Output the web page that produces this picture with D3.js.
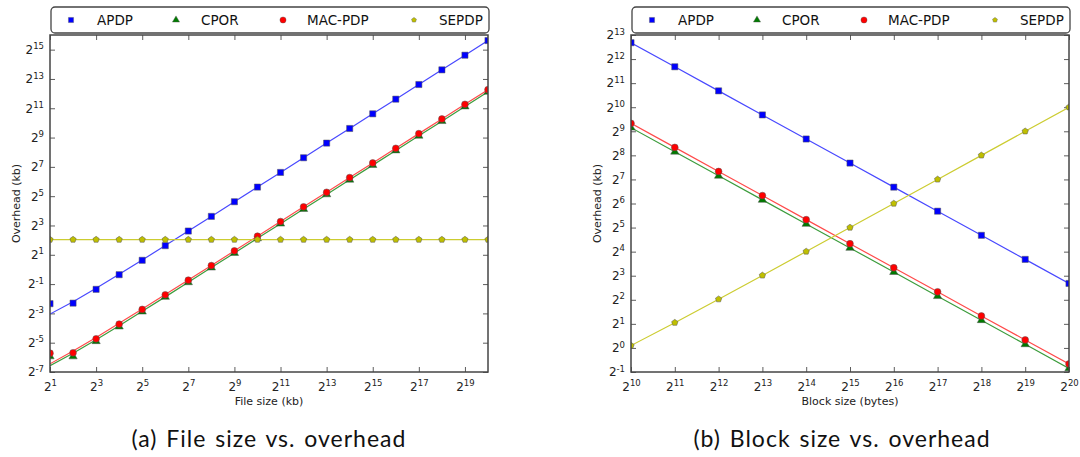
<!DOCTYPE html>
<html><head><meta charset="utf-8">
<script src="https://cdn.jsdelivr.net/npm/d3@7"></script>
<style>
html,body{margin:0;padding:0;background:#fff;}
svg{display:block;font-family:"DejaVu Sans",sans-serif;}
</style></head>
<body>
<svg id="chart" width="1080" height="457"></svg>
<script>
// ---------- DATA ----------
const seriesNames = ["APDP", "CPOR", "MAC-PDP", "SEPDP"];

// (a) File size (kb) vs. overhead (kb)
const fileSizes = [2, 4, 8, 16, 32, 64, 128, 256, 512, 1024, 2048, 4096, 8192, 16384, 32768, 65536, 131072, 262144, 524288, 1048576];
const fileApdp   = [0.198, 0.203, 0.39, 0.78, 1.54, 3.08, 6.15, 12.3, 24.6, 49.2, 98.4, 197, 394, 787, 1575, 3150, 6300, 12600, 25200, 50400];
const fileCpor   = [0.0163, 0.0163, 0.0335, 0.067, 0.1357, 0.272, 0.543, 1.09, 2.17, 4.35, 8.7, 17.4, 34.8, 69.5, 139, 278, 556, 1113, 2226, 4452];
const fileMac    = [0.019, 0.0194, 0.0376, 0.0753, 0.151, 0.301, 0.602, 1.2, 2.41, 4.82, 9.64, 19.3, 38.5, 77.1, 154, 308, 617, 1233, 2467, 4934];
const fileSepdp  = [4.1, 4.1, 4.1, 4.1, 4.1, 4.1, 4.1, 4.1, 4.1, 4.1, 4.1, 4.1, 4.1, 4.1, 4.1, 4.1, 4.1, 4.1, 4.1, 4.1];
// fitted curves drawn as lines in panel (a)
const fileApdpFit  = [0.121, 0.217, 0.409, 0.793, 1.56, 3.1, 6.17, 12.3, 24.6, 49.2, 98.4, 197, 394, 787, 1575, 3150, 6300, 12600, 25200, 50400];
const fileCporFit  = [0.0105, 0.019, 0.036, 0.07, 0.138, 0.273, 0.545, 1.09, 2.17, 4.35, 8.7, 17.4, 34.8, 69.5, 139, 278, 556, 1113, 2226, 4452];
const fileMacFit   = [0.0115, 0.021, 0.04, 0.078, 0.154, 0.306, 0.605, 1.2, 2.41, 4.82, 9.64, 19.3, 38.5, 77.1, 154, 308, 617, 1233, 2467, 4934];
const fileSepdpFit = [4.1, 4.1, 4.1, 4.1, 4.1, 4.1, 4.1, 4.1, 4.1, 4.1, 4.1, 4.1, 4.1, 4.1, 4.1, 4.1, 4.1, 4.1, 4.1, 4.1];

// (b) Block size (bytes) vs. overhead (kb)
const blockSizes = [1024, 2048, 4096, 8192, 16384, 32768, 65536, 131072, 262144, 524288, 1048576];
const blockApdp  = [6560, 3280, 1640, 820, 410, 205, 102.5, 51.3, 25.6, 12.8, 6.4];
const blockCpor  = [568, 284, 142, 71, 35.5, 17.8, 8.88, 4.44, 2.22, 1.11, 0.555];
const blockMac   = [644, 322, 161, 80.4, 40.2, 20.1, 10.06, 5.03, 2.51, 1.26, 0.63];
const blockSepdp = [1.07, 2.07, 4.07, 8.07, 16.07, 32.07, 64, 128, 256, 512, 1024];

// tick values
const fileXTicks  = [2, 8, 32, 128, 512, 2048, 8192, 32768, 131072, 524288];
const fileYTicks  = [1/128, 1/32, 1/8, 1/2, 2, 8, 32, 128, 512, 2048, 8192, 32768];
const blockXTicks = [1024, 2048, 4096, 8192, 16384, 32768, 65536, 131072, 262144, 524288, 1048576];
const blockYTicks = [0.5, 1, 2, 4, 8, 16, 32, 64, 128, 256, 512, 1024, 2048, 4096, 8192];

const xLabels   = ["File size (kb)", "Block size (bytes)"];
const yLabel    = "Overhead (kb)";
const captions  = ["(a) File size vs. overhead", "(b) Block size vs. overhead"];

// ---------- STYLE ----------
const markerFill = ["#0000ff", "#007a00", "#ff0000", "#bfbf00"];
const lineColor  = ["#4848ff", "#3c9c3c", "#ff4a4a", "#cccc30"];
const pentagon = {
  draw(ctx, size) {
    const r = Math.sqrt(size / 2.378);
    for (let i = 0; i < 5; i++) {
      const a = -Math.PI / 2 + i * 2 * Math.PI / 5;
      const x = r * Math.cos(a), y = r * Math.sin(a);
      if (i === 0) ctx.moveTo(x, y); else ctx.lineTo(x, y);
    }
    ctx.closePath();
  }
};
const symTypes = [d3.symbolSquare, d3.symbolTriangle, d3.symbolCircle, pentagon];
const symSizes = [38, 30, 36, 26];
const legSizes = [26, 22, 30, 16];

const svg = d3.select("#chart");

function supLabel(sel) {
  sel.each(function(d) {
    const t = d3.select(this);
    const e = Math.round(Math.log2(d));
    t.text(null);
    t.append("tspan").text("2");
    t.append("tspan").attr("dy", "-0.55em").attr("font-size", "8.5px").text(String(e));
  });
}

function panel(cfg) {
  const g = svg.append("g");
  const x = d3.scaleLog().base(2).domain(cfg.xDom).range([cfg.left, cfg.right]);
  const y = d3.scaleLog().base(2).domain(cfg.yDom).range([cfg.bottom, cfg.top]);

  // axes
  const ax = g.append("g").attr("transform", `translate(0,${cfg.bottom})`)
    .call(d3.axisBottom(x).tickValues(cfg.xTicks).tickSizeInner(-5).tickSizeOuter(0).tickPadding(10));
  ax.selectAll(".tick text").call(supLabel);
  const ay = g.append("g").attr("transform", `translate(${cfg.left},0)`)
    .call(d3.axisLeft(y).tickValues(cfg.yTicks).tickSizeInner(-5).tickSizeOuter(0).tickPadding(6));
  ay.selectAll(".tick text").call(supLabel);
  g.append("g").attr("transform", `translate(0,${cfg.top})`)
    .call(d3.axisTop(x).tickValues(cfg.xTicks).tickSizeInner(-5).tickSizeOuter(0).tickFormat(""));
  g.append("g").attr("transform", `translate(${cfg.right},0)`)
    .call(d3.axisRight(y).tickValues(cfg.yTicks).tickSizeInner(-5).tickSizeOuter(0).tickFormat(""));
  g.selectAll(".domain").remove();
  g.selectAll(".tick line").attr("stroke", "#333").attr("stroke-width", 0.8);
  g.selectAll(".tick text").attr("font-size", "12px").attr("fill", "#222").attr("font-family", "DejaVu Sans");

  // clip
  const cid = "clip" + cfg.id;
  g.append("clipPath").attr("id", cid).append("rect")
    .attr("x", cfg.left).attr("y", cfg.top).attr("width", cfg.right - cfg.left).attr("height", cfg.bottom - cfg.top);

  const plot = g.append("g").attr("clip-path", `url(#${cid})`);
  cfg.series.forEach((s, i) => {
    const line = d3.line().x((d, j) => x(cfg.xs[j])).y(d => y(d));
    plot.append("path").datum(s.fit).attr("d", line)
      .attr("fill", "none").attr("stroke", lineColor[i]).attr("stroke-width", 1.2);
    plot.selectAll(null).data(s.vals).join("path")
      .attr("transform", (d, j) => `translate(${x(cfg.xs[j])},${y(d)})`)
      .attr("d", d3.symbol().type(symTypes[i]).size(symSizes[i]))
      .attr("fill", markerFill[i]).attr("stroke", "#555").attr("stroke-width", 0.5);
  });

  // frame
  g.append("rect").attr("x", cfg.left).attr("y", cfg.top)
    .attr("width", cfg.right - cfg.left).attr("height", cfg.bottom - cfg.top)
    .attr("fill", "none").attr("stroke", "#444").attr("stroke-width", 1.5);

  // axis labels
  g.append("text").attr("x", (cfg.left + cfg.right) / 2).attr("y", 405)
    .attr("text-anchor", "middle").attr("font-size", "11px").attr("fill", "#222").text(cfg.xLabel);
  g.append("text").attr("transform", `translate(${cfg.yLabX},${(cfg.top + cfg.bottom) / 2}) rotate(-90)`)
    .attr("text-anchor", "middle").attr("font-size", "11px").attr("fill", "#222").text(yLabel);

  // legend
  const lg = g.append("g").attr("transform", `translate(${cfg.left + 1},7)`);
  lg.append("rect").attr("x", 0).attr("y", 0).attr("width", cfg.right - cfg.left).attr("height", 26)
    .attr("rx", 4).attr("fill", "#fff").attr("stroke", "#444").attr("stroke-width", 1.3);
  const mx = [20, 125, 232, 363], tx = [46, 150, 256, 388];
  seriesNames.forEach((n, i) => {
    lg.append("path").attr("transform", `translate(${mx[i]},13)`)
      .attr("d", d3.symbol().type(symTypes[i]).size(legSizes[i]))
      .attr("fill", markerFill[i]).attr("stroke", "#555").attr("stroke-width", 0.4);
    lg.append("text").attr("x", tx[i]).attr("y", 17.8).attr("font-size", "13.5px").attr("fill", "#111").text(n);
  });

  // caption
  svg.append("text").attr("x", cfg.capX).attr("y", 447).attr("text-anchor", "middle")
    .attr("font-family", "Lato, 'Open Sans', sans-serif").attr("font-size", "23px").attr("fill", "#111")
    .attr("letter-spacing", "1px").attr("word-spacing", "2px")
    .text(cfg.caption);
}

panel({
  id: "a", left: 50, right: 488, top: 35, bottom: 372,
  xDom: [2, 1048576], yDom: [1/128, 65536],
  xTicks: fileXTicks, yTicks: fileYTicks, xs: fileSizes,
  series: [
    {vals: fileApdp, fit: fileApdpFit},
    {vals: fileCpor, fit: fileCporFit},
    {vals: fileMac, fit: fileMacFit},
    {vals: fileSepdp, fit: fileSepdpFit}
  ],
  xLabel: xLabels[0], yLabX: 20, caption: captions[0], capX: 269
});
panel({
  id: "b", left: 631, right: 1069, top: 35, bottom: 372,
  xDom: [1024, 1048576], yDom: [0.5, 8192],
  xTicks: blockXTicks, yTicks: blockYTicks, xs: blockSizes,
  series: [
    {vals: blockApdp, fit: blockApdp},
    {vals: blockCpor, fit: blockCpor},
    {vals: blockMac, fit: blockMac},
    {vals: blockSepdp, fit: blockSepdp}
  ],
  xLabel: xLabels[1], yLabX: 601, caption: captions[1], capX: 842
});
</script>
</body></html>
